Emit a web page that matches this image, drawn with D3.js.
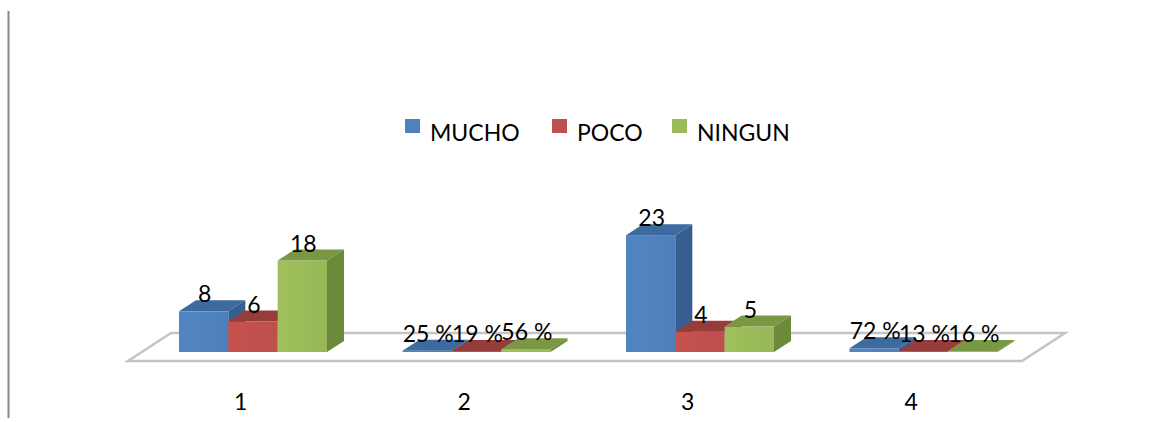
<!DOCTYPE html>
<html>
<head>
<meta charset="utf-8">
<script src="https://cdn.jsdelivr.net/npm/d3@7"></script>
<style>
  body { margin: 0; background: #fff; }
  text { font-family: Lato, "Liberation Sans", sans-serif; fill: #000; }
</style>
</head>
<body>
<div id="chart"></div>
<script>
// Data
const categories = ["1", "2", "3", "4"];
const seriesNames = ["MUCHO", "POCO", "NINGUN"];
const mucho = [8, 0.25, 23, 0.72];
const poco = [6, 0.19, 4, 0.13];
const ningun = [18, 0.56, 5, 0.16];

const width = 1174;
const height = 422;

const colors = {
  MUCHO: { front: "#4f81bd", top: "#3d6a9f", side: "#365e8f" },
  POCO: { front: "#c0504d", top: "#963d3b", side: "#9c403d" },
  NINGUN: { front: "#9bbb59", top: "#7a9843", side: "#6d8a3a" }
};

const svg = d3.select("#chart")
  .append("svg")
  .attr("width", width)
  .attr("height", height);

// left frame line
svg.append("line")
  .attr("x1", 8.5).attr("x2", 8.5)
  .attr("y1", 11).attr("y2", 418)
  .attr("stroke", "#888").attr("stroke-width", 2);

// scales
const x0 = d3.scaleBand().domain(categories).range([128, 1022]);
const x1 = d3.scaleBand().domain(seriesNames).range([0, 148]);
const y = d3.scaleLinear().domain([0, 25]).range([352, 225]);

const depth = { dx: 17, dy: -11 };
const floor = { y: 361, dx: 43, dy: -28 };

// floor
const [fx0, fx1] = x0.range();
svg.append("path")
  .attr("d", `M${fx0},${floor.y} L${fx1},${floor.y} L${fx1 + floor.dx},${floor.y + floor.dy} L${fx0 + floor.dx},${floor.y + floor.dy} Z`)
  .attr("fill", "#fff")
  .attr("stroke", "#c4c4c4")
  .attr("stroke-width", 2.5)
  .attr("stroke-linejoin", "miter");

// gradient for front faces
const defs = svg.append("defs");
seriesNames.forEach((s) => {
  const g = defs.append("linearGradient").attr("id", "g-" + s)
    .attr("x1", 0).attr("x2", 1).attr("y1", 0).attr("y2", 0);
  g.append("stop").attr("offset", "0%").attr("stop-color", d3.color(colors[s].front).brighter(0.08));
  g.append("stop").attr("offset", "100%").attr("stop-color", d3.color(colors[s].front).darker(0.05));
});

// build rows
const values = { MUCHO: mucho, POCO: poco, NINGUN: ningun };
const rows = [];
categories.forEach((c, i) => {
  seriesNames.forEach((s) => {
    rows.push({ cat: c, series: s, value: values[s][i] });
  });
});

const fmt = (v) => v < 1 ? Math.round(v * 100) + "\u00a0%" : String(v);

const bars = svg.append("g").attr("class", "bars");
rows.forEach((d) => {
  const x = x0(d.cat) + 51 + x1(d.series);
  const w = x1.bandwidth();
  const yb = y(0);
  const yt = Math.min(y(d.value), yb - 1);
  const c = colors[d.series];
  const g = bars.append("g");
  // front
  g.append("rect")
    .attr("x", x).attr("y", yt)
    .attr("width", w).attr("height", yb - yt)
    .attr("fill", `url(#g-${d.series})`);
  // top
  g.append("path")
    .attr("d", `M${x},${yt} L${x + w},${yt} L${x + w + depth.dx},${yt + depth.dy} L${x + depth.dx},${yt + depth.dy} Z`)
    .attr("fill", c.top);
  // side
  g.append("path")
    .attr("d", `M${x + w},${yt} L${x + w + depth.dx},${yt + depth.dy} L${x + w + depth.dx},${yb + depth.dy} L${x + w},${yb} Z`)
    .attr("fill", c.side);
});

// value labels
svg.append("g").selectAll("text")
  .data(rows)
  .enter()
  .append("text")
  .attr("x", (d) => x0(d.cat) + 51 + x1(d.series) + x1.bandwidth() / 2 + 1)
  .attr("y", (d) => Math.min(y(d.value), y(0) - 1) - 9)
  .attr("text-anchor", "middle")
  .attr("font-size", 23)
  .text((d) => fmt(d.value));

// category labels
svg.append("g").selectAll("text")
  .data(categories)
  .enter()
  .append("text")
  .attr("x", (d) => x0(d) + x0.bandwidth() / 2 + 1)
  .attr("y", 410)
  .attr("text-anchor", "middle")
  .attr("font-size", 23)
  .text((d) => d);

// legend
const legendX = [405, 552, 672];
const legend = svg.append("g");
seriesNames.forEach((s, i) => {
  legend.append("rect")
    .attr("x", legendX[i]).attr("y", 119)
    .attr("width", 15).attr("height", 14)
    .attr("fill", colors[s].front);
  legend.append("text")
    .attr("x", legendX[i] + 25).attr("y", 141)
    .attr("font-size", 23)
    .text(s);
});
</script>
</body>
</html>
